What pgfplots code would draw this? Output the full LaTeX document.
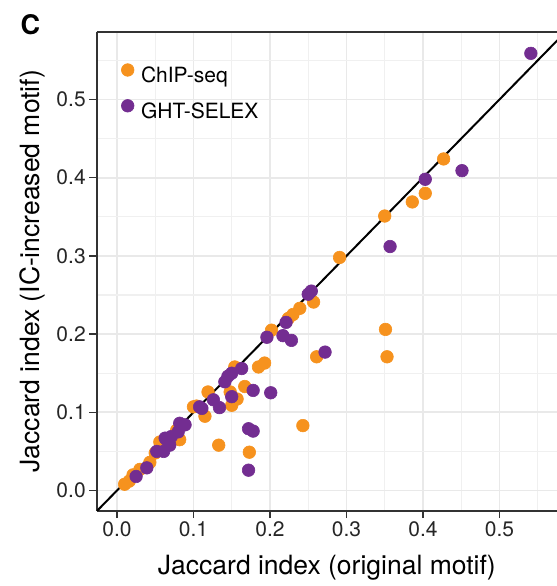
\documentclass[border=0pt]{standalone}
\usepackage{fontspec}
\setmainfont{TeX Gyre Heros}
\usepackage{pgfplots}
\pgfplotsset{compat=1.18}
\definecolor{chip}{RGB}{246,146,30}
\definecolor{ght}{RGB}{115,45,145}
\definecolor{gridmaj}{RGB}{233,233,233}
\definecolor{gridmin}{RGB}{240,240,240}
\definecolor{axgray}{RGB}{51,51,51}

\begin{document}
\begin{tikzpicture}
\begin{axis}[name=ax, scale only axis, width=460.3bp, height=479bp,
  xmin=-0.0265, xmax=0.5752, ymin=-0.0258, ymax=0.5867,
  xtick={0,0.1,0.2,0.3,0.4,0.5}, ytick={0,0.1,0.2,0.3,0.4,0.5},
  minor xtick={0.05,0.15,0.25,0.35,0.45,0.55},
  minor ytick={0.05,0.15,0.25,0.35,0.45,0.55},
  grid=both,
  major grid style={gridmaj, line width=1.7bp},
  minor grid style={gridmin, line width=1.1bp},
  axis x line*=box, axis y line*=left,
  axis line style={axgray, line width=1.8bp},
  tick pos=left, tick align=outside,
  major tick length=7.5bp, minor tick length=0pt,
  every tick/.append style={axgray, line width=1.5bp},
  ticklabel style={font=\fontsize{21bp}{24bp}\selectfont, text=black!85},
  /pgf/number format/.cd, fixed, fixed zerofill, precision=1, assume math mode=true,
  /pgfplots/.cd,
  legend style={at={(axis description cs:0.0537,0.9332)}, anchor=north west,
    draw=none, fill=none, inner sep=0pt, outer sep=0pt,
    font=\fontsize{21bp}{24bp}\selectfont, row sep=13bp, column sep=7bp,
    nodes={inner sep=0pt, text height=15bp, text depth=4bp}},
  legend cell align=left,
  legend image code/.code={\draw[#1] plot coordinates {(0bp,7bp)};},
]
\addplot[only marks, color=chip, mark=*, mark size=6.3bp, mark options={fill=chip, draw=chip, line width=0.6bp}] coordinates {
(0.010,0.008) (0.016,0.012) (0.021,0.020) (0.030,0.027) (0.043,0.036)
(0.050,0.048) (0.056,0.062) (0.078,0.077) (0.082,0.065) (0.100,0.107)
(0.104,0.108) (0.115,0.095) (0.119,0.126) (0.133,0.058) (0.148,0.126)
(0.150,0.109) (0.157,0.117) (0.154,0.158) (0.167,0.133) (0.173,0.049)
(0.185,0.158) (0.193,0.163) (0.202,0.205) (0.224,0.220) (0.230,0.225)
(0.239,0.233) (0.243,0.083) (0.257,0.241) (0.261,0.171) (0.291,0.298)
(0.350,0.351) (0.351,0.206) (0.353,0.171) (0.386,0.369) (0.403,0.380)
(0.427,0.424)
};
\addlegendentry{ChIP-seq}
\addplot[only marks, color=ght, mark=*, mark size=6.3bp, mark options={fill=ght, draw=ght, line width=0.6bp}] coordinates {
(0.025,0.018) (0.039,0.029) (0.052,0.050) (0.061,0.050) (0.063,0.067)
(0.065,0.065) (0.069,0.058) (0.071,0.069) (0.080,0.075) (0.082,0.086)
(0.089,0.084) (0.108,0.107) (0.111,0.105) (0.126,0.116) (0.134,0.106)
(0.141,0.139) (0.145,0.146) (0.150,0.120) (0.150,0.150) (0.163,0.156)
(0.172,0.079) (0.178,0.076) (0.172,0.026) (0.178,0.128) (0.201,0.125)
(0.196,0.196) (0.217,0.198) (0.221,0.215) (0.228,0.192) (0.250,0.251)
(0.254,0.255) (0.272,0.177) (0.357,0.312) (0.403,0.398) (0.451,0.409)
(0.541,0.559)
};
\addlegendentry{GHT-SELEX}
\addplot[black, line width=2bp, forget plot] coordinates {(-0.0265,-0.0265) (0.5867,0.5867)};
\end{axis}
\node[anchor=base, font=\fontsize{26.5bp}{30bp}\selectfont] at ([yshift=-63.3bp]ax.south) {Jaccard index (original motif)};
\node[rotate=90, anchor=base, font=\fontsize{26.5bp}{30bp}\selectfont] at ([xshift=-57bp]ax.west) {Jaccard index (IC-increased motif)};
\node[anchor=base west, font=\bfseries\fontsize{27bp}{30bp}\selectfont] at ([xshift=-79.7bp,yshift=-3.3bp]ax.north west) {C};
\pgfresetboundingbox
\path[use as bounding box] ([xshift=-96.7bp,yshift=-75.3bp]ax.south west) rectangle ([yshift=31.7bp]ax.north east);
\end{tikzpicture}
\end{document}
